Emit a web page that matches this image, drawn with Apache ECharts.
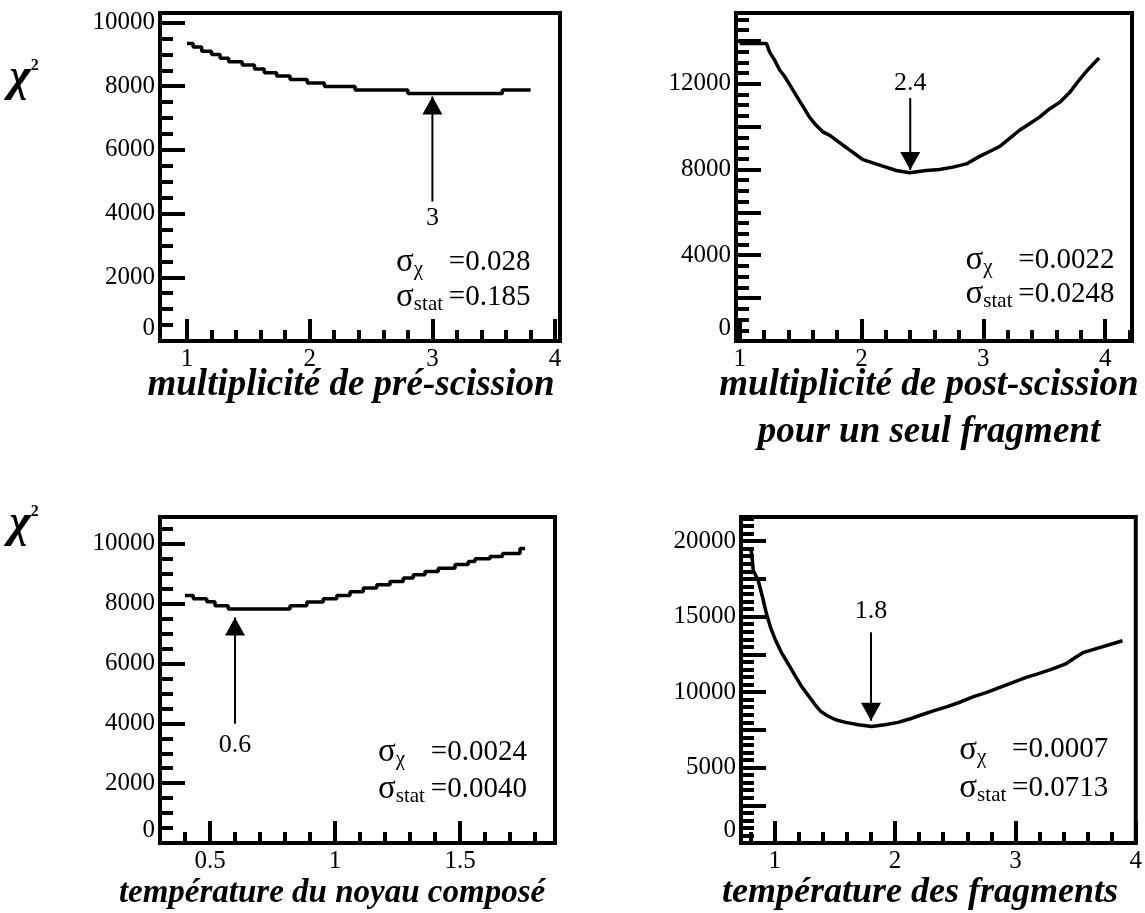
<!DOCTYPE html>
<html><head><meta charset="utf-8">
<style>html,body{margin:0;padding:0;background:#fff}#c{width:1145px;height:913px}</style>
<script src="https://cdn.jsdelivr.net/npm/echarts@6.0.0/dist/echarts.min.js"></script>
</head><body><div id="c"></div>
<script>
// ---------- data ----------
// Panel 1 : multiplicité de pré-scission (step curve, x = start of each step)
const p1X = [1.0,1.05,1.12,1.20,1.27,1.34,1.45,1.55,1.63,1.73,1.84,1.98,2.12,2.37,2.80,3.57,3.80];
const p1Y = [9340,9230,9100,9000,8880,8770,8665,8545,8425,8320,8215,8105,7990,7880,7775,7880,7880];
// Panel 2 : multiplicité de post-scission pour un seul fragment
const p2X = [1.0,1.22,1.245,1.286,1.327,1.368,1.409,1.450,1.491,1.532,1.573,1.628,1.682,1.737,1.792,1.846,1.901,1.957,2.011,2.093,2.175,2.285,2.394,2.531,2.64,2.75,2.86,2.969,3.051,3.133,3.215,3.297,3.379,3.461,3.543,3.626,3.708,3.790,3.858,3.95];
const p2Y = [13880,13880,13490,13112,12654,12348,11968,11588,11204,10824,10444,10060,9757,9602,9373,9144,8915,8686,8458,8307,8155,7955,7849,7955,8000,8110,8260,8613,8842,9071,9450,9830,10137,10444,10824,11130,11588,12197,12654,13200];
// Panel 3 : température du noyau composé (step curve)
const p3X = [0.40,0.433,0.487,0.52,0.573,0.82,0.887,0.953,1.007,1.06,1.113,1.167,1.22,1.273,1.313,1.36,1.413,1.48,1.533,1.56,1.62,1.67,1.74,1.76];
const p3Y = [8277,8167,8067,7933,7823,7933,8057,8167,8277,8400,8523,8633,8743,8857,8967,9077,9190,9310,9410,9500,9580,9680,9850,9850];
// Panel 4 : température des fragments
const p4X = [0.80,0.809,0.822,0.863,0.899,0.932,0.965,1.008,1.055,1.096,1.137,1.178,1.219,1.260,1.301,1.342,1.383,1.437,1.506,1.588,1.697,1.806,1.916,2.025,2.120,2.216,2.325,2.434,2.544,2.653,2.762,2.871,2.981,3.090,3.199,3.309,3.418,3.5,3.568,3.89];
const p4Y = [19500,19164,18056,17392,16284,15180,14293,13411,12635,12084,11533,10975,10424,9980,9542,9097,8719,8434,8168,7991,7836,7724,7836,7991,8213,8480,8766,9031,9343,9695,9980,10312,10644,10975,11241,11533,11865,12303,12635,13400];

// axis titles
const xTitles = [['multiplicité de pré-scission'], ['multiplicité de post-scission','pour un seul fragment'], ['température du noyau composé'], ['température des fragments']];
// tick labels
const xLabels = [[1,2,3,4],[1,2,3,4],[0.5,1,1.5],[1,2,3,4]];
const yLabels = [[0,2000,4000,6000,8000,10000],[0,4000,8000,12000],[0,2000,4000,6000,8000,10000],[0,5000,10000,15000,20000]];
// arrows marking the minimum
const arrowX = [3, 2.4, 0.6, 1.8];
const arrowFrom = [4380, 11330, 3990, 13960];
const arrowTip = [7680, 7980, 7540, 8100];
const arrowDir = ['up','down','up','down'];
const arrowText = ['3','2.4','0.6','1.8'];
const arrowTextY = [3870, 12030, 3270, 15330];
// sigma annotations
const sigmaX = [2.70, 2.85, 1.17, 2.53];
const sigmaY1 = [2480, 3780, 3030, 6170];
const sigmaY2 = [1380, 2190, 1800, 3650];
const sigmaChi = ['0.028','0.0022','0.0024','0.0007'];
const sigmaStat = ['0.185','0.0248','0.0040','0.0713'];

// ---------- layout ----------
const SERIF = '"Liberation Serif", "Times New Roman", serif';
function range(a, b, s) { const r = []; for (let v = a; v <= b + 1e-9; v += s) r.push(Math.round(v * 1000) / 1000); return r; }
function minus(all, major) { return all.filter(v => !major.some(m => Math.abs(m - v) < 1e-6)); }

const panels = [
  { grid:{left:160, top:13, width:400, height:328}, x:[0.78,4.04], y:[0,10300],
    xMaj:[1,2,3,4], xAll:range(1,4,0.2), yMaj:range(0,10000,2000), yAll:range(0,10000,500),
    xs:p1X, ys:p1Y, step:'end' },
  { grid:{left:736, top:13, width:396, height:328}, x:[0.97,4.22], y:[0,15300],
    xMaj:[1,2,3,4], xAll:range(1,4.2,0.2), yMaj:range(0,14000,2000), yAll:range(0,15000,500),
    xs:p2X, ys:p2Y, step:false },
  { grid:{left:160, top:517, width:395, height:326}, x:[0.3,1.88], y:[0,10900],
    xMaj:[0.5,1,1.5], xAll:range(0.4,1.8,0.1), yMaj:range(0,10000,2000), yAll:range(0,10500,500),
    xs:p3X, ys:p3Y, step:'end' },
  { grid:{left:741, top:517, width:400, height:326}, x:[0.72,4.0], y:[0,21600],
    xMaj:[1,2,3,4], xAll:range(0.8,4,0.2), yMaj:range(0,20000,2500), yAll:range(0,21500,500),
    xs:p4X, ys:p4Y, step:false }
];

const grid = [], xAxis = [], yAxis = [], series = [];
const labelFont = { fontFamily: SERIF, fontSize: 25, color: '#000' };
const hidden = { color:'rgba(0,0,0,0)', opacity:1 };

panels.forEach((p, i) => {
  grid.push(Object.assign({ show:true, borderColor:'#000', borderWidth:4, backgroundColor:'transparent', containLabel:false }, p.grid));
  // major x axis
  xAxis.push({ type:'value', gridIndex:i, min:p.x[0], max:p.x[1], position:'bottom',
    axisLine:{show:false, onZero:false}, splitLine:{show:false},
    axisTick:{show:true, inside:true, length:22, customValues:p.xMaj, lineStyle:{color:'#000', width:4}},
    axisLabel:Object.assign({ show:true, margin:6, customValues:xLabels[i], formatter:v => String(v) }, labelFont) });
  // minor x axis
  xAxis.push({ type:'value', gridIndex:i, min:p.x[0], max:p.x[1], position:'bottom',
    axisLine:{show:false, onZero:false}, splitLine:{show:false}, axisLabel:{show:false},
    axisTick:{show:true, inside:true, length:11, customValues:minus(p.xAll, p.xMaj), lineStyle:{color:'#000', width:4}} });
  // major y axis
  yAxis.push({ type:'value', gridIndex:i, min:p.y[0], max:p.y[1], position:'left',
    axisLine:{show:false, onZero:false}, splitLine:{show:false},
    axisTick:{show:true, inside:true, length:25, customValues:p.yMaj, lineStyle:{color:'#000', width:4}},
    axisLabel:Object.assign({ show:true, margin:5, customValues:yLabels[i], formatter:v => String(v), verticalAlignMinLabel:'bottom' }, labelFont) });
  // minor y axis
  yAxis.push({ type:'value', gridIndex:i, min:p.y[0], max:p.y[1], position:'left',
    axisLine:{show:false, onZero:false}, splitLine:{show:false}, axisLabel:{show:false},
    axisTick:{show:true, inside:true, length:13, customValues:minus(p.yAll, p.yMaj), lineStyle:{color:'#000', width:4}} });

  const xi = 2*i, yi = 2*i;
  // curve
  series.push({ type:'line', xAxisIndex:xi, yAxisIndex:yi, data:p.xs.map((x,k) => [x, p.ys[k]]),
    step:p.step, symbol:'none', lineStyle:{color:'#000', width:3.5}, clip:true, z:3, silent:true });
  // arrow shaft
  series.push({ type:'line', xAxisIndex:xi, yAxisIndex:yi, data:[[arrowX[i], arrowFrom[i]], [arrowX[i], arrowTip[i]]],
    symbol:'none', lineStyle:{color:'#000', width:2}, z:4, silent:true });
  // arrow head
  series.push({ type:'scatter', xAxisIndex:xi, yAxisIndex:yi, data:[[arrowX[i], arrowTip[i]]],
    symbol:'triangle', symbolSize:[20,18], symbolRotate: arrowDir[i] === 'up' ? 0 : 180,
    symbolOffset:[0, arrowDir[i] === 'up' ? 9 : -9], itemStyle:{color:'#000', opacity:1}, z:5, silent:true });
  // arrow value text
  series.push({ type:'scatter', xAxisIndex:xi, yAxisIndex:yi, data:[[arrowX[i], arrowTextY[i]]],
    symbolSize:1, itemStyle:hidden, silent:true,
    label:{show:true, position:'inside', formatter:arrowText[i], fontFamily:SERIF, fontSize:26, color:'#000'} });
  // sigma lines
  const rich = {
    s:{fontFamily:SERIF, fontSize:33, color:'#000', lineHeight:32},
    b:{fontFamily:SERIF, fontSize:21, color:'#000', lineHeight:21, padding:[15,0,0,0], width:35},
    v:{fontFamily:SERIF, fontSize:29, color:'#000', lineHeight:32}
  };
  series.push({ type:'scatter', xAxisIndex:xi, yAxisIndex:yi,
    data:[[sigmaX[i], sigmaY1[i]], [sigmaX[i], sigmaY2[i]]],
    symbolSize:1, itemStyle:hidden, silent:true,
    label:{show:true, position:'right', distance:0,
      formatter: prm => prm.dataIndex === 0 ? '{s|σ}{b|χ}{v|=' + sigmaChi[i] + '}' : '{s|σ}{b|stat}{v|=' + sigmaStat[i] + '}',
      rich: rich } });
});

// axis titles and chi2 labels (text)
const titlePos = [[351,385],[929,385],[332,893],[920,893]];
const titleSize = [37, 37, 33, 36];
const graphic = [];
xTitles.forEach((lines, i) => {
  lines.forEach((t, k) => {
    graphic.push({ type:'text', x:titlePos[i][0], y:titlePos[i][1] + 47*k, silent:true,
      style:{ text:t, align:'center', verticalAlign:'middle', fontFamily:SERIF, fontSize:titleSize[i], fontWeight:'bold', fontStyle:'italic', fill:'#000' } });
  });
});
[[24,78],[24,524]].forEach(pt => {
  graphic.push({ type:'text', x:pt[0], y:pt[1], silent:true,
    style:{ text:'{c|χ}{s|2}', align:'center', verticalAlign:'middle',
      rich:{ c:{fontFamily:SERIF, fontSize:46, fontWeight:'bold', fontStyle:'italic', fill:'#000', lineHeight:44},
             s:{fontFamily:SERIF, fontSize:16, fontWeight:'bold', fill:'#000', lineHeight:16, padding:[0,0,24,0]} } } });
});

const chart = echarts.init(document.getElementById('c'), null, { renderer:'canvas' });
chart.setOption({ animation:false, backgroundColor:'#fff', grid, xAxis, yAxis, series, graphic });
</script>
</body></html>
